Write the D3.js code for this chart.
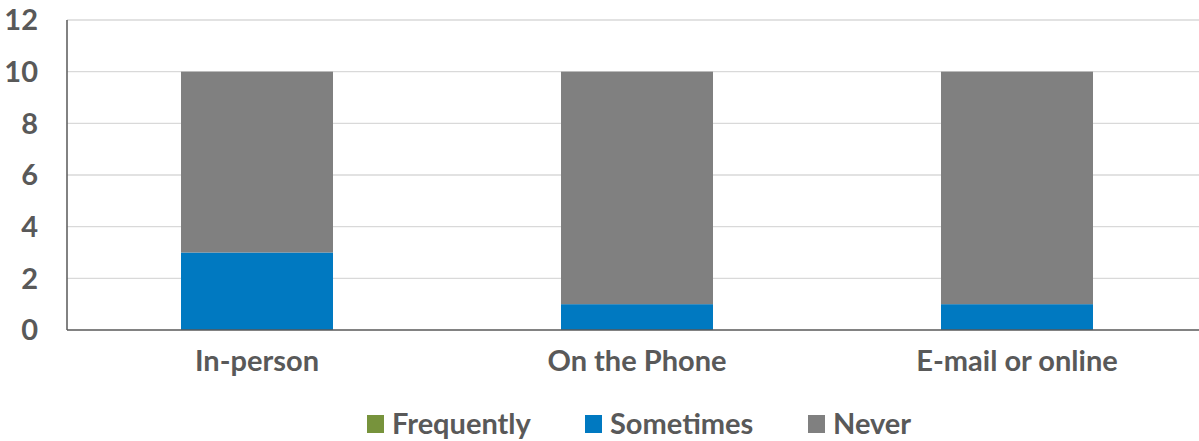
<!DOCTYPE html>
<html><head><meta charset="utf-8">
<script src="https://cdn.jsdelivr.net/npm/d3@7"></script>
<style>body{margin:0;background:#fff}svg{display:block}text{font-family:Lato,"Open Sans",sans-serif;font-weight:bold;fill:#595959}</style>
</head><body><svg id="c" width="1199" height="441"></svg>
<script>
const categories = ["In-person","On the Phone","E-mail or online"];
const seriesNames = ["Frequently","Sometimes","Never"];
const frequently = [0,0,0];
const sometimes = [3,1,1];
const never = [7,9,9];
const colors = ["#77933c","#0079c1","#808080"];
const yTicks = [0,2,4,6,8,10,12];

const svg = d3.select("#c");
const mLeft = 67, mRight = 1207, mTop = 20, mBottom = 330;
const x = d3.scaleBand().domain(categories).range([mLeft,mRight]).paddingInner(0.6).paddingOuter(0.3);
const y = d3.scaleLinear().domain([0,12]).range([mBottom,mTop]);

const rows = categories.map((c,i)=>({cat:c,Frequently:frequently[i],Sometimes:sometimes[i],Never:never[i]}));
const stack = d3.stack().keys(seriesNames)(rows);

// gridlines
svg.append("g").selectAll("line").data(yTicks.filter(d=>d>0)).join("line")
  .attr("x1",mLeft).attr("x2",1199).attr("y1",d=>y(d)).attr("y2",d=>y(d))
  .attr("stroke","#d9d9d9").attr("stroke-width",1.3);

// bars
svg.append("g").selectAll("g").data(stack).join("g").attr("fill",(d,i)=>colors[i])
  .selectAll("rect").data(d=>d).join("rect")
  .attr("x",d=>x(d.data.cat)).attr("width",x.bandwidth())
  .attr("y",d=>y(d[1])).attr("height",d=>y(d[0])-y(d[1]));

// axes lines
svg.append("line").attr("x1",mLeft).attr("x2",1199).attr("y1",mBottom).attr("y2",mBottom).attr("stroke","#595959").attr("stroke-width",1.5);
svg.append("line").attr("x1",mLeft).attr("x2",mLeft).attr("y1",mTop).attr("y2",mBottom).attr("stroke","#595959").attr("stroke-width",1.5);

// y labels
svg.append("g").selectAll("text").data(yTicks).join("text")
  .attr("x",38).attr("y",d=>y(d)).attr("dy","0.36em").attr("text-anchor","end")
  .attr("font-size",29).text(d=>d);

// x labels
svg.append("g").selectAll("text").data(categories).join("text")
  .attr("x",d=>x(d)+x.bandwidth()/2).attr("y",371).attr("text-anchor","middle")
  .attr("font-size",29).text(d=>d);

// legend
const legX = [367,585,808];
const lg = svg.append("g").selectAll("g").data(seriesNames).join("g")
  .attr("transform",(d,i)=>`translate(${legX[i]},415)`);
lg.append("rect").attr("width",17).attr("height",18).attr("fill",(d,i)=>colors[i]);
lg.append("text").attr("x",25).attr("y",19).attr("font-size",29).text(d=>d);
</script></body></html>
